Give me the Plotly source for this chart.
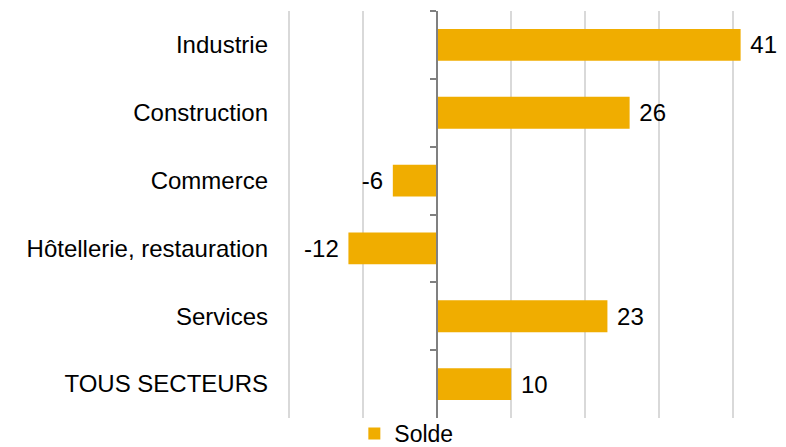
import plotly.graph_objects as go

categories = ["Industrie", "Construction", "Commerce", "Hôtellerie, restauration", "Services", "TOUS SECTEURS"]
values = [41, 26, -6, -12, 23, 10]
series_name = "Solde"

BAR_COLOR = "#F0AD00"
FONT = "Liberation Sans, Arial, sans-serif"
FS = 24

labels = [(" %d" % v) if v >= 0 else ("%d " % v) for v in values]

fig = go.Figure()
fig.add_trace(go.Bar(
    y=categories, x=values, orientation="h", name=series_name,
    marker=dict(color=BAR_COLOR, line=dict(width=0)),
    text=labels, texttemplate="%{text}", textposition="outside",
    textfont=dict(size=FS, color="#000000", family=FONT),
    cliponaxis=False, hoverinfo="skip",
))
# invisible helper trace to carry the centred category axis with boundary ticks
fig.add_trace(go.Scatter(
    y=categories, x=[0] * len(categories), yaxis="y2", mode="markers",
    marker=dict(opacity=0), showlegend=False, hoverinfo="skip",
))

xmin, xmax = -20.3, 44.7
fig.update_layout(
    width=786, height=447,
    margin=dict(l=287, r=18, t=11, b=29, autoexpand=False),
    paper_bgcolor="white", plot_bgcolor="white",
    font=dict(family=FONT, size=FS, color="#000000"),
    bargap=0.53,
    showlegend=True,
    legend=dict(orientation="h", x=0.14, xanchor="left", y=-0.038, yanchor="middle",
                font=dict(size=23, family=FONT, color="#000000"),
                bgcolor="rgba(0,0,0,0)", itemwidth=30),
    xaxis=dict(range=[xmin, xmax], dtick=10, tick0=0, showticklabels=False,
               showgrid=True, gridcolor="#D9D9D9", gridwidth=1.5,
               zeroline=False, showline=False, ticks="", automargin=False),
    yaxis=dict(range=[5.5, -0.5], showline=False, showgrid=False, ticks="",
               ticklabelstandoff=18, automargin=False,
               tickfont=dict(size=FS, family=FONT, color="#000000")),
    yaxis2=dict(overlaying="y", anchor="free", position=(0 - xmin) / (xmax - xmin),
                range=[5.5, -0.5], showticklabels=False, showgrid=False,
                showline=True, linecolor="#808080", linewidth=2,
                ticks="outside", tickson="boundaries", ticklen=6, automargin=False,
                tickcolor="#808080", tickwidth=2, zeroline=False),
)

fig.write_html("out.html", config={"displayModeBar": False},
               post_script="document.body.style.margin='0';")
